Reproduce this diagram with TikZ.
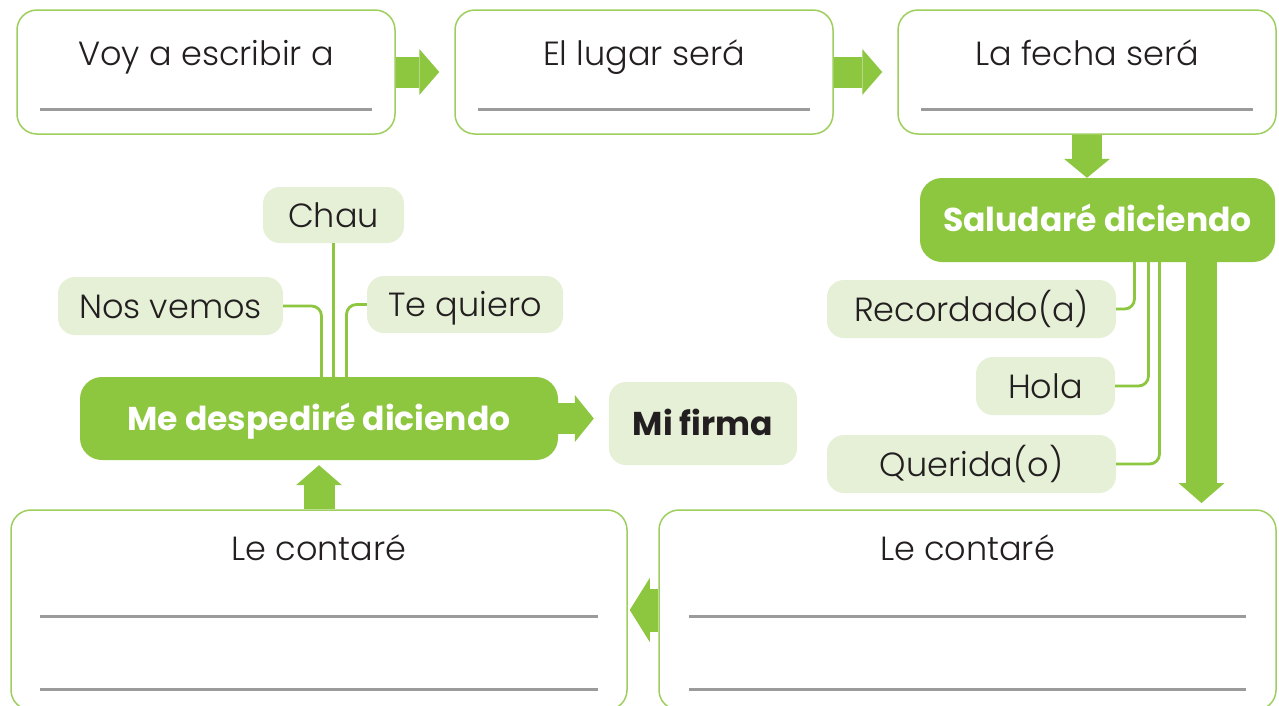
\documentclass[tikz,border=0pt]{standalone}
\usepackage{fontspec}
\setmainfont{Poppins}
\IfFontExistsTF{Poppins Light}{\newfontfamily\labelfont{Poppins Light}}{\newfontfamily\labelfont{Poppins}}
\usetikzlibrary{arrows.meta,calc}

\definecolor{leafgreen}{HTML}{8DC63F}
\definecolor{palegreen}{HTML}{E5F0D6}
\definecolor{inkgray}{HTML}{231F20}
\definecolor{rulegray}{HTML}{9B9B9B}

\tikzset{
  writebox/.style={draw=leafgreen!85, line width=1.5pt, rounded corners=20pt, fill=white},
  greenbox/.style={fill=leafgreen, rounded corners=22pt, text=white, text height=23pt, text depth=0pt, font=\bfseries\fontsize{33}{38}\selectfont},
  wordbox/.style={fill=palegreen, rounded corners=17pt, text=inkgray, text height=24pt, text depth=0pt, font=\labelfont\fontsize{33.5}{38}\selectfont},
  boxtitle/.style={text=inkgray, font=\labelfont\fontsize{33.5}{38}\selectfont, anchor=base},
  writeline/.style={rulegray, line width=2.6pt},
  twig/.style={leafgreen, line width=2.8pt, rounded corners=10pt},
  blockarrow/.style={leafgreen, line width=31pt, -{Triangle[width=46pt,length=20pt,line width=0pt]}},
}

\begin{document}
\begin{tikzpicture}[x=1pt,y=-1pt]
\useasboundingbox (0,0) rectangle (1279,705);
\clip (0,0) rectangle (1279,705);
\fill[white] (0,0) rectangle (1279,705);

% top row
\node[writebox, minimum width=378pt, minimum height=124pt] (escribir) at (206,72) {};
\node[writebox, minimum width=378pt, minimum height=124pt] (lugar) at (644,72) {};
\node[writebox, minimum width=378pt, minimum height=124pt] (fecha) at (1087,72) {};
\node[boxtitle] (escribirT) at (206,65) {Voy a escribir a};
\node[boxtitle] (lugarT) at (644,65) {El lugar será};
\node[boxtitle] (fechaT) at (1087,65) {La fecha será};
\draw[writeline] ($(escribir.south west)+(24,-25)$) -- ($(escribir.south east)+(-24,-25)$);
\draw[writeline] ($(lugar.south west)+(24,-25)$) -- ($(lugar.south east)+(-24,-25)$);
\draw[writeline] ($(fecha.south west)+(24,-25)$) -- ($(fecha.south east)+(-24,-25)$);

% greeting
\node[greenbox, minimum width=355pt, minimum height=84pt] (saludo) at (1097.5,220) {Saludaré diciendo};
\node[wordbox, minimum width=289pt, minimum height=58pt] (recordado) at (971.5,309) {Recordado(a)};
\node[wordbox, minimum width=139pt, minimum height=58pt] (hola) at (1045.5,386) {Hola};
\node[wordbox, minimum width=289pt, minimum height=58pt] (querida) at (971.5,464) {Querida(o)};
\coordinate (saludoFoot) at (saludo.south);
\draw[twig] ([xshift=37pt]saludoFoot) |- (recordado.east);
\draw[twig] ([xshift=51pt]saludoFoot) |- (hola.east);
\draw[twig] ([xshift=62pt]saludoFoot) |- (querida.east);

% farewell
\node[greenbox, minimum width=478pt, minimum height=83pt] (despedir) at (319,418.5) {Me despediré diciendo};
\node[wordbox, font=\bfseries\fontsize{33}{38}\selectfont, minimum width=188pt, minimum height=83pt] (firma) at (703,423.5) {Mi firma};
\node[wordbox, minimum width=141pt, minimum height=56pt] (chau) at (333.5,215) {Chau};
\node[wordbox, minimum width=225pt, minimum height=58pt] (nosvemos) at (170.5,306) {Nos vemos};
\node[wordbox, minimum width=196pt, minimum height=57pt] (tequiero) at (465,304.5) {Te quiero};
\coordinate (chauFoot) at (chau.south |- despedir.north);
\draw[twig] (chau.south) -- (chauFoot);
\draw[twig] (nosvemos.east) -| ([xshift=-12pt]chauFoot);
\draw[twig] (tequiero.west) -| ([xshift=13pt]chauFoot);

% bottom row
\node[writebox, minimum width=616pt, minimum height=200pt] (contarA) at (319,610) {};
\node[writebox, minimum width=617pt, minimum height=200pt] (contarB) at (967.5,610) {};
\node[boxtitle] (contarAT) at (319,560) {Le contaré};
\node[boxtitle] (contarBT) at (967.5,560) {Le contaré};
\draw[writeline] ($(contarA.north west)+(30,107)$) -- ($(contarA.north east)+(-30,107)$);
\draw[writeline] ($(contarA.north west)+(30,180)$) -- ($(contarA.north east)+(-30,180)$);
\draw[writeline] ($(contarB.north west)+(31,107)$) -- ($(contarB.north east)+(-31,107)$);
\draw[writeline] ($(contarB.north west)+(31,180)$) -- ($(contarB.north east)+(-31,180)$);

% block arrows
\draw[blockarrow, shorten >=15pt] (escribir.east) -- (lugar.west);
\draw[blockarrow, shorten >=15pt] (lugar.east) -- (fecha.west);
\draw[blockarrow, line width=30pt, -{Triangle[width=46pt,length=19pt,line width=0pt]}] (fecha.south) -- (fecha.south |- saludo.north);
\coordinate (bigTip) at (1201.5,503);
\draw[blockarrow] (saludo.south -| bigTip) -- (bigTip);
\draw[blockarrow, line width=43pt, -{Triangle[width=64pt,length=20pt,line width=0pt]}, shorten >=2pt] (contarB.west) -- (contarA.east);
\draw[blockarrow, shorten >=5pt] (contarA.north) -- (despedir.south);
\draw[blockarrow, -{Triangle[width=47pt,length=19pt,line width=0pt]}, shorten >=15pt] (despedir.east) -- (despedir.east -| firma.west);
\end{tikzpicture}
\end{document}
